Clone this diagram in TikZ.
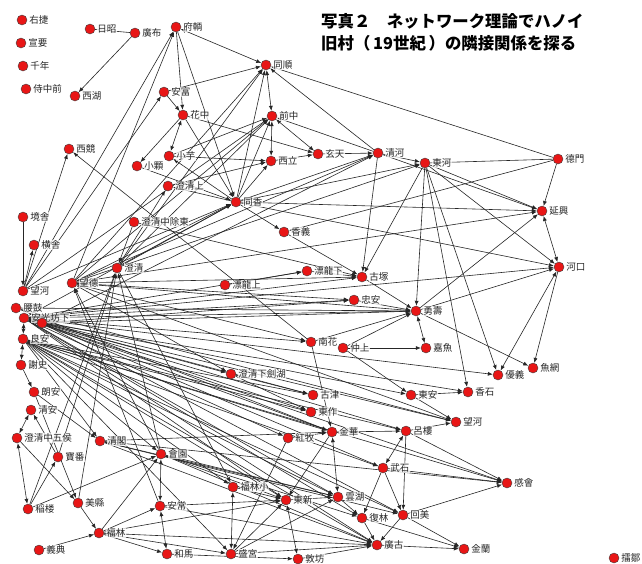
\documentclass[tikz,border=0pt]{standalone}
\usepackage{fontspec}
\newfontfamily\cjk{Noto Sans CJK JP}
\usetikzlibrary{arrows.meta}
\pgfdeclarelayer{back}
\pgfdeclarelayer{bg}
\pgfsetlayers{back,bg,main}
\begin{document}
\begin{tikzpicture}[x=1pt,y=-1pt,
  vtx/.style={circle,fill={rgb,255:red,232;green,22;blue,22},draw=black!75,line width=0.4pt,minimum size=10pt,inner sep=0pt},
  lbl/.style={font=\cjk\fontsize{9.5}{10}\selectfont,inner sep=0.5pt,text=black!85,fill=white,fill opacity=0.75,text opacity=1},
  edg/.style={draw=black!85,line width=0.6pt,-{Latex[length=5pt,width=4pt]}},
  bid/.style={draw=black!85,line width=0.6pt,{Latex[length=5pt,width=4pt]}-{Latex[length=5pt,width=4pt]}},
  pln/.style={draw=black!85,line width=0.6pt}]
\useasboundingbox (0,0) rectangle (642,563);
\begin{pgfonlayer}{back}
\fill[white] (0,0) rectangle (642,563);
\end{pgfonlayer}
% title
\node[font=\cjk\bfseries\fontsize{16.4}{22}\selectfont,anchor=north west,align=left,inner sep=0pt] (title) at (321,13)
  {写真２　ネットワーク理論でハノイ\\旧村（\,19世紀\,）の隣接関係を探る};
% vertices
\foreach \id/\x/\y/\t in {
 uj/22/20/右捷, sy/21/43/宣要, sn/23/66/千年, jz/26/89/侍中前, ns/90/29/日昭, kf/135/33/廣布,
 fr/176/27/府輌, xh/75/96/西湖, af/164/92/安富, hz/183/115/花中, xk/69/149/西競, xg/137/166/小顆,
 xy/169/156/小芋, cs/168/186/澄清上, ts/266/65/同順, qz/272/116/前中, xl/271/161/西立, xt/318/154/玄天,
 qh/378/153/清河, dh/425/163/東河, dm/558/159/德門, js/23/217/境舎, hs/34/245/横舎, cd/134/222/澄清中除東,
 cq/117/268/澄清, wd/72/283/望德, wh/23/291/望河, yg/16/308/腰鼓, ag/24/318/安光坊下, la/23/339/良安,
 xs/21/365/謝史, tx/236/202/同香, xi/284/232/香義, pd/307/271/漂龍下, gz/362/277/古塚, pu/225/285/漂龍上,
 za/354/300/忠安, ys/416/311/勇壽, nh/311/342/南花, zs/343/348/仲上, yx/542/211/延興, hk/559/267/河口,
 jy/426/348/嘉魚, yw/533/368/魚網, yy/498/375/優義, hsh/468/392/香石, da/411/395/東安, whb/456/422/望河,
 ll/406/431/呂樓, gh/507/483/感會, hm/403/515/回美, jl/464/549/金蘭, lz/614/558/擂鄒, cj/231/374/澄清下劍湖,
 gj/313/395/古津, dz/311/412/東作, km/288/438/紅牧, jh/332/432/金華, ws/383/468/武石, fx/233/487/福林小,
 dx/286/500/東新, yh/338/497/雲湖, fl/362/518/復林, kg/377/545/廣古, sg/231/554/盛宮, df/298/559/敦坊,
 ra/34/392/朗安, qa/31/410/清安, ch/17/438/澄清中五侯, bf/58/457/寶番, qg/100/441/清閣, hy/161/454/會園,
 dl/28/509/稲楼, mx/78/503/美縣, ac/160/506/安常, fb/99/533/福林, yd/39/550/義典, hma/167/554/和馬}
 \node[vtx,label={[lbl,label distance=1.5pt]right:\t}] (\id) at (\x,\y) {};
\node[vtx] (ax) at (42,323) {};
% connectors
\begin{pgfonlayer}{bg}
\draw[pln] (ns) -- (kf);
\draw[pln] (dh) -- (dm);
\foreach \a/\b in {fr/ts,hz/xy,ts/qz,qz/xl,qz/xt,ys/jy,yx/hk,hk/yy,ch/qa,ch/dl,hy/ac,ac/hma,la/xs,
  jh/yh,ll/ws,fx/sg,dx/df,ag/la}
  \draw[bid] (\a) -- (\b);
\foreach \a/\b in {kf/xh,wh/fr,wd/fr,fr/hz,fr/tx,wh/af,af/hz,af/ts,hz/xg,xy/xl,hz/xt,xy/qz,tx/xy,tx/cs,
  cq/cs,cd/cq,cd/gz,xl/xt,xt/qh,qh/qz,qh/ts,dm/ts,qh/dh,
  tx/ts,tx/qz,tx/xl,tx/qh,tx/dh,tx/yx,tx/hk,tx/xi,xg/tx,hz/tx,wd/tx,wh/tx,ag/tx,cq/tx,
  wd/ts,wh/qz,wd/qz,cq/ts,cs/xl,cq/qz,ax/qh,
  xi/gz,pu/pd,pd/gz,qh/gz,dh/gz,gz/ys,za/ys,ag/za,nh/ys,zs/ys,zs/jy,ys/yw,ys/hk,ys/yx,dh/ys,dh/yx,
  dh/hk,dh/yy,dh/hsh,dm/yx,dm/xi,qh/yx,ag/hk,hk/yw,
  wd/yx,wd/qh,wd/dh,wh/xk,js/wh,wh/hs,nh/xk,
  ag/ys,ag/gz,ag/nh,ag/cj,ag/gj,ag/dz,ag/jh,ag/km,ag/ll,ag/whb,ag/da,ag/gh,ag/yh,ag/dx,ag/kg,ag/fl,ag/yy,ag/pd,
  ax/ys,ax/za,ax/hsh,ax/ws,ax/hm,
  la/jh,la/hm,la/kg,la/dx,la/yh,la/gh,la/ws,la/ll,la/gj,la/dz,la/fx,la/sg,
  wd/ys,wd/gz,wd/za,wd/nh,wd/whb,wd/cj,yg/ys,yg/whb,yg/jh,
  xs/ra,bf/qa,ch/mx,dl/bf,dl/hy,dl/cq,mx/cq,bf/cq,ra/mx,mx/fb,yd/fb,fb/hy,la/qg,qg/jh,qg/hm,qg/gh,
  qg/kg,qg/yh,la/hy,hy/dx,hy/yh,hy/kg,hy/fl,fb/ac,fb/hma,fb/dx,fb/sg,fb/kg,hma/df,ac/dx,ac/kg,hy/wd,ac/wd,
  cq/fx,cj/gj,cj/dz,km/jh,jh/ll,jh/dx,km/sg,ll/hm,ws/fl,ws/hm,yh/fl,fl/kg,hm/kg,hm/jl,hm/gh,ll/gh,ws/gh,
  kg/jl,fl/jl,fx/dx,sg/dx,sg/yh,df/kg,sg/kg,dx/yh,da/hsh,da/whb,ll/whb,zs/da,nh/jh,ra/qg,hy/cq}
  \draw[edg] (\a) -- (\b);
\end{pgfonlayer}
\end{tikzpicture}
\end{document}
